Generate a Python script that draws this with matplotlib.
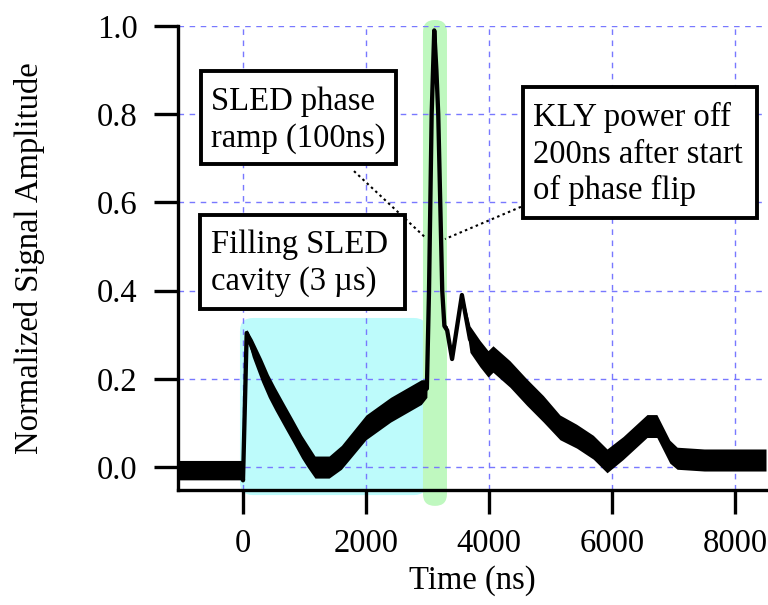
import matplotlib
matplotlib.use("Agg")
import matplotlib.pyplot as plt
from matplotlib.patches import FancyBboxPatch, Rectangle

plt.rcParams['font.family'] = ['Liberation Serif', 'DejaVu Serif']

# ---- data ----
time_ns = [-1057, -20, 0, 60, 150, 300, 412, 520, 683, 800, 954, 1050, 1170,
           1400, 1600, 2000, 2400, 2900, 2990, 3025, 3068, 3110, 3145, 3175,
           3240, 3275, 3320, 3400, 3560, 3691, 3854, 3985, 4065, 4341, 4613,
           4884, 5154, 5425, 5696, 5920, 6180, 6570, 6730, 6940, 7060, 7500,
           8000, 8505]
amp_mid = [-0.007, -0.007, -0.03, 0.304, 0.27, 0.22, 0.184, 0.155, 0.114,
           0.085, 0.046, 0.025, 0.0, 0.0, 0.022, 0.09, 0.13, 0.17, 0.178,
           0.40, 0.80, 0.99, 0.90, 0.80, 0.40, 0.32, 0.31, 0.245, 0.39, 0.29,
           0.257, 0.234, 0.245, 0.211, 0.17, 0.132, 0.09, 0.07, 0.045, 0.014,
           0.043, 0.093, 0.093, 0.035, 0.02, 0.016, 0.016, 0.016]
amp_noise = [0.022, 0.022, 0.0, 0.008, 0.02, 0.026, 0.026, 0.026, 0.026,
             0.026, 0.026, 0.026, 0.025, 0.025, 0.027, 0.028, 0.028, 0.028,
             0.02, 0.0, 0.0, 0.0, 0.0, 0.0, 0.0, 0.005, 0.01, 0.0, 0.005,
             0.03, 0.03, 0.03, 0.03, 0.03, 0.03, 0.03, 0.028, 0.027, 0.027,
             0.027, 0.026, 0.026, 0.026, 0.026, 0.025, 0.025, 0.025, 0.025]

x_ticks = [0, 2000, 4000, 6000, 8000]
y_ticks = [0.0, 0.2, 0.4, 0.6, 0.8, 1.0]
y_tick_labels = ["0.0", "0.2", "0.4", "0.6", "0.8", "1.0"]

fill_region = (-49, 2992, -0.0635, 0.338)    # Filling SLED cavity highlight
flip_region = (2927, 3317, -0.088, 1.0136)   # phase flip highlight

ann_sled_line = ([1805, 2976], [0.671, 0.519])
ann_kly_line = ([4520, 3285], [0.590, 0.517])

W, H = 768, 605
FS = 23.5

fig = plt.figure(figsize=(W / 100, H / 100), dpi=100)
ax = fig.add_axes([178 / W, 1 - 490 / H, (766 - 178) / W, (490 - 26) / H])
ax.set_xlim(-1057, 8505)
ax.set_ylim(-0.052, 1.0)

px_x = (8505 + 1057) / 588.0   # data per pixel (x)
px_y = 1.052 / 464.0           # data per pixel (y)
aspect = px_y / px_x

def rounded(region, radius_px, color):
    x0, x1, y0, y1 = region
    p = FancyBboxPatch((x0, y0), x1 - x0, y1 - y0,
                       boxstyle=f"round,pad=0,rounding_size={radius_px * px_x}",
                       mutation_aspect=aspect, fc=color, ec='none',
                       clip_on=False, zorder=1)
    ax.add_patch(p)

rounded(fill_region, 13, '#bdfbfb')
rounded(flip_region, 11.9, '#bff8bf')

lo = [m - n for m, n in zip(amp_mid, amp_noise)]
hi = [m + n for m, n in zip(amp_mid, amp_noise)]
ax.fill_between(time_ns, lo, hi, color='black', lw=0, zorder=2)
ax.plot(time_ns, amp_mid, color='black', lw=3.1, zorder=2.1,
        solid_joinstyle='round')

ax.plot(*ann_sled_line, color='black', lw=1.5, ls=(0, (1.2, 1.6)), zorder=3)
ax.plot(*ann_kly_line, color='black', lw=1.5, ls=(0, (1.2, 1.6)), zorder=3)

ax.set_xticks(x_ticks)
ax.set_yticks(y_ticks)
ax.set_yticklabels(y_tick_labels)
ax.grid(True, color='#7878ff', lw=1.0, ls=(0, (4, 4)))
for s in ['top', 'right']:
    ax.spines[s].set_visible(False)
for s in ['left', 'bottom']:
    ax.spines[s].set_linewidth(2.4)
ax.tick_params(axis='both', direction='out', length=17, width=2.4,
               labelsize=FS)
ax.tick_params(axis='x', pad=11)
ax.tick_params(axis='y', pad=12)

ax.set_xlabel("Time (ns)", fontsize=FS)
ax.set_ylabel("Normalized Signal Amplitude", fontsize=FS)
ax.xaxis.set_label_coords(0.5, -(565 - 490) / 464)
ax.yaxis.set_label_coords((45 - 178) / 588, 0.5)

# annotation boxes (pixel layout)
def box(x0, y0, x1, y1):
    r = Rectangle((x0 / W, 1 - y1 / H), (x1 - x0) / W, (y1 - y0) / H,
                  transform=fig.transFigure, fc='white', ec='black', lw=2.8,
                  zorder=5)
    fig.add_artist(r)

def line_text(x, y, s):
    fig.text(x / W, 1 - y / H, s, fontsize=FS, ha='left', va='baseline',
             zorder=6)

box(201, 71, 396, 164)
line_text(211, 110, "SLED phase")
line_text(211, 147, "ramp (100ns)")

box(200, 215, 405, 309)
line_text(211, 253, "Filling SLED")
line_text(211, 290, "cavity (3 \u00b5s)")

box(523, 87, 757, 218)
line_text(533, 126, "KLY power off")
line_text(533, 163, "200ns after start")
line_text(533, 199, "of phase flip")

fig.savefig("out.png", dpi=100)
